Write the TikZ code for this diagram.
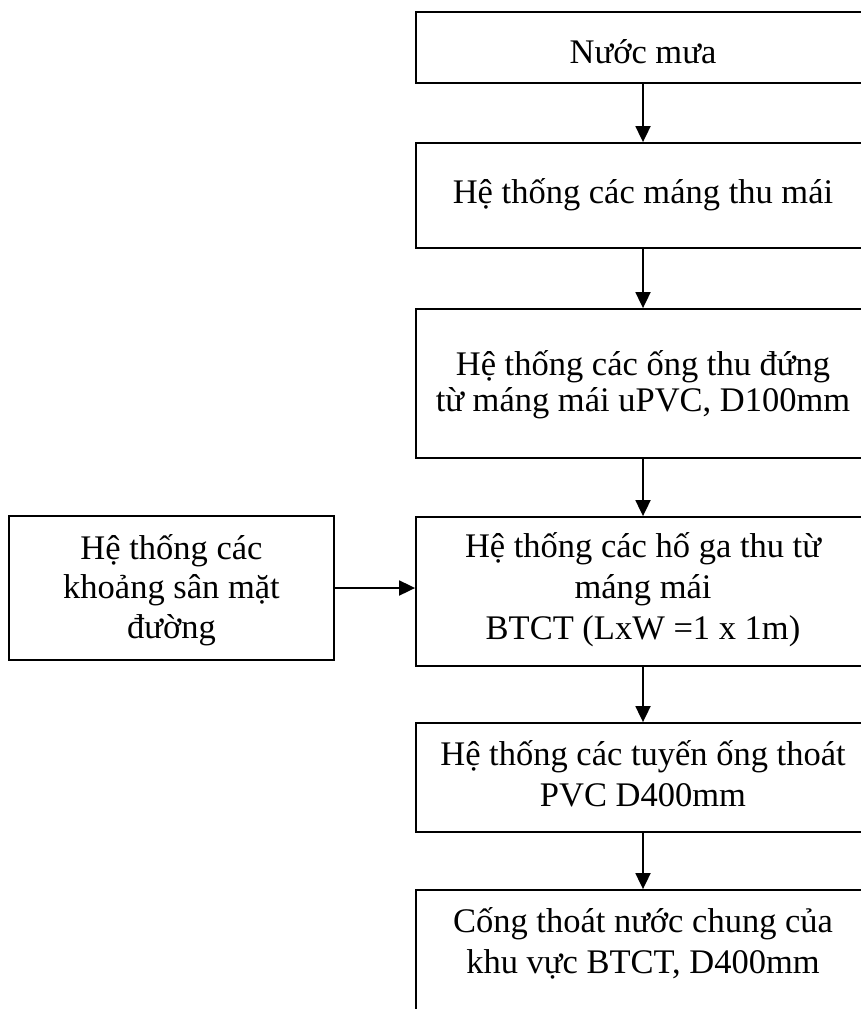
\documentclass[tikz,border=0pt]{standalone}
\usepackage{fontspec}
\setmainfont{Liberation Serif}
\usetikzlibrary{arrows.meta}
\begin{document}
\begin{tikzpicture}[x=1pt,y=-1pt,
  box/.style={draw, line width=1.8pt, rectangle, inner sep=0pt},
  lbl/.style={font=\fontsize{34.5}{41}\selectfont, align=center, anchor=base, inner sep=0pt},
  flow/.style={line width=1.8pt, -{Triangle[length=16pt,width=15pt]}}]
\path[use as bounding box, clip] (0,0) rectangle (861,1009);

% main column of boxes (right column runs past the page edge)
\node[box, minimum width=454pt, minimum height=71pt]  (b1) at (643,47.5)  {};
\node[box, minimum width=454pt, minimum height=105pt] (b2) at (643,195.5) {};
\node[box, minimum width=454pt, minimum height=149pt] (b3) at (643,383.5) {};
\node[box, minimum width=454pt, minimum height=149pt] (b4) at (643,591.5) {};
\node[box, minimum width=454pt, minimum height=109pt] (b5) at (643,777.5) {};
\node[box, minimum width=454pt, minimum height=150pt] (b6) at (643,965)   {};
% side box
\node[box, minimum width=325pt, minimum height=144pt] (side) at (171.5,588) {};

% texts (anchored on the baseline of their last line)
\node[lbl] (t1) at (643,63)  {Nước mưa};
\node[lbl] (t2) at (643,203) {Hệ thống các máng thu mái};
\node[lbl, font=\fontsize{34.5}{36}\selectfont] (t3) at (643,411) {Hệ thống các ống thu đứng\\từ máng mái uPVC, D100mm};
\node[lbl] (t4) at (643,639) {Hệ thống các hố ga thu từ\\máng mái\\BTCT (LxW =1 x 1m)};
\node[lbl] (t5) at (643,806) {Hệ thống các tuyến ống thoát\\PVC D400mm};
\node[lbl] (t6) at (643,973) {Cống thoát nước chung của\\khu vực BTCT, D400mm};
\node[lbl, font=\fontsize{34.5}{39.5}\selectfont] (ts) at (171.5,638) {Hệ thống các\\khoảng sân mặt\\đường};

% connectors
\draw[flow] (b1.south) -- (b2.north);
\draw[flow] (b2.south) -- (b3.north);
\draw[flow] (b3.south) -- (b4.north);
\draw[flow] (b4.south) -- (b5.north);
\draw[flow] (b5.south) -- (b6.north);
\draw[flow] (side.east) -- (side.east -| b4.west);
\end{tikzpicture}
\end{document}
